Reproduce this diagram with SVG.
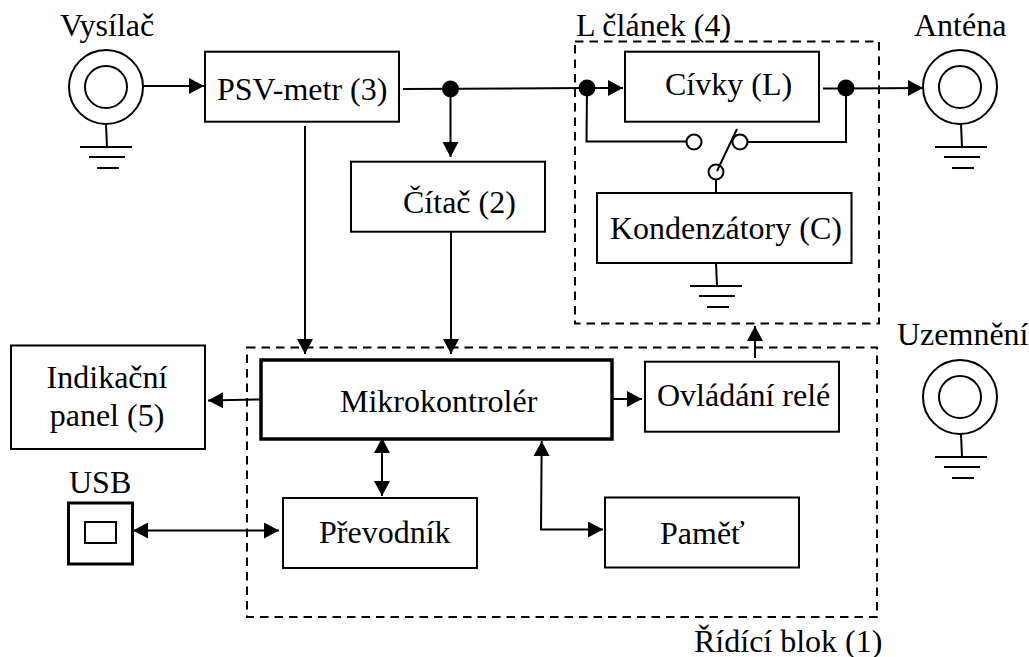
<svg xmlns="http://www.w3.org/2000/svg" width="1029" height="657" viewBox="0 0 1029 657">
<style>
text{font-family:"Liberation Serif","Times New Roman",serif;font-size:32px;fill:#000}
.b{fill:#fff;stroke:#000;stroke-width:2}
.o{fill:none;stroke:#000;stroke-width:2}
.d{fill:none;stroke:#000;stroke-width:2;stroke-dasharray:8.5 6}
.c{fill:none;stroke:#000;stroke-width:2}
.a{marker-end:url(#h)}
.s{marker-start:url(#r);marker-end:url(#h)}
.j{fill:#000;stroke:none}
.t{fill:#fff;stroke:#000;stroke-width:2}
</style>
<defs>
<marker id="h" markerUnits="userSpaceOnUse" markerWidth="16" markerHeight="18" refX="15" refY="8" orient="auto"><path d="M0 0L15 8L0 16Z"/></marker>
<marker id="r" markerUnits="userSpaceOnUse" markerWidth="16" markerHeight="18" refX="0" refY="8" orient="auto"><path d="M15 0L0 8L15 16Z"/></marker>
<g id="gnd"><path class="o" d="M0 0L1 23M-26 23H26M-17 33H19M-9 44H13"/></g>
</defs>
<g id="dashed-frames">
<rect class="d" x="575" y="41.500" width="304" height="282"/>
<rect class="d" x="247" y="347.500" width="630" height="269.500"/>
</g>
<g id="connectors">
<path class="c a" d="M144 86H204"/>
<path class="c" d="M403 89L587 88"/>
<path class="c a" d="M587 88H623"/>
<path class="c a" d="M450.500 90V157"/>
<path class="c" d="M823 88.500H846"/>
<path class="c a" d="M846 88.500L923 88"/>
<path class="c" d="M587 88L586.500 141.500H686M747 142H846V88"/>
<path class="c" d="M716 180V192"/>
<path class="c a" d="M305 126V354"/>
<path class="c a" d="M451 232V354"/>
<path class="c a" d="M260 399.500L208 400.500"/>
<path class="c s" d="M382 438V496"/>
<path class="c s" d="M133 530.500H279"/>
<path class="c a" d="M612 399H642"/>
<path class="c a" d="M755 358V326"/>
<path class="c s" d="M541.700 441L541 529.500H603"/>
<circle class="j" cx="450.500" cy="89" r="8.500"/>
<circle class="j" cx="587" cy="88" r="8.500"/>
<circle class="j" cx="846" cy="88" r="8.500"/>
</g>
<g id="vysilac"><text x="60" y="36">Vysílač</text><circle class="o" cx="106" cy="87" r="37"/><circle class="o" cx="106" cy="87" r="21"/><use href="#gnd" x="106" y="124"/></g>
<g id="psv"><rect class="b" x="205" y="51.700" width="194" height="70"/><text x="217" y="100">PSV-metr (3)</text></g>
<g id="citac"><rect class="b" x="351" y="161.700" width="194" height="70"/><text x="403" y="212.500">Čítač (2)</text></g>
<g id="l-clanek-label"><text x="576" y="36">L článek (4)</text></g>
<g id="civky"><rect class="b" x="625" y="51.700" width="194" height="70"/><text x="665" y="95">Cívky (L)</text></g>
<g id="switch"><circle class="t" cx="694" cy="142" r="7.500"/><circle class="t" cx="740" cy="142" r="7.500"/><circle class="o" cx="716" cy="172" r="7.500"/><path class="o" d="M737 129L717 171"/></g>
<g id="kondenzatory"><rect class="b" x="597" y="193" width="254.500" height="70"/><text x="610" y="239">Kondenzátory (C)</text><use href="#gnd" x="716" y="263"/></g>
<g id="antena"><text x="914" y="36">Anténa</text><circle class="t" cx="960" cy="87" r="37"/><circle class="o" cx="960" cy="87" r="21"/><use href="#gnd" x="961" y="124"/></g>
<g id="uzemneni"><text x="897" y="345">Uzemnění</text><circle class="o" cx="960" cy="397" r="37"/><circle class="o" cx="960" cy="397" r="21"/><use href="#gnd" x="961" y="434"/></g>
<g id="indikacni"><rect class="b" x="11" y="345.500" width="194" height="103.500"/><text x="107" y="388" text-anchor="middle">Indikační</text><text x="107" y="426" text-anchor="middle">panel (5)</text></g>
<g id="mikrokontroler"><rect class="b" style="stroke-width:3.500" x="261" y="360" width="351" height="79"/><text x="340" y="412">Mikrokontrolér</text></g>
<g id="ovladani"><rect class="b" x="645" y="361.700" width="194" height="70"/><text x="657" y="406">Ovládání relé</text></g>
<g id="usb"><text x="69" y="493">USB</text><rect class="b" style="stroke-width:3" x="68.500" y="503" width="64" height="61"/><rect class="b" x="85" y="522" width="31" height="21"/></g>
<g id="prevodnik"><rect class="b" x="283" y="498" width="194" height="70"/><text x="319" y="543">Převodník</text></g>
<g id="pamet"><rect class="b" x="605" y="497.500" width="194" height="70"/><text x="660" y="544">Paměť</text></g>
<g id="ridici-label"><text x="694" y="652">Řídící blok (1)</text></g>
</svg>
